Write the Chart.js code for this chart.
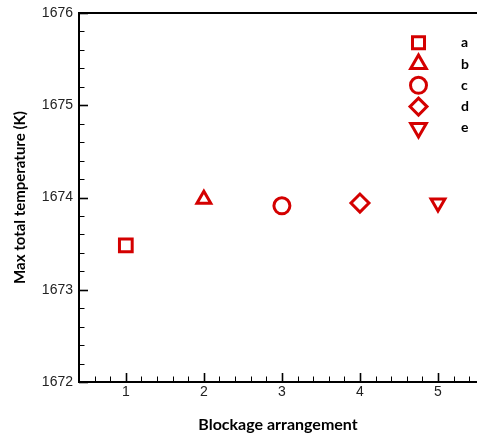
<!DOCTYPE html>
<html>
<head>
<meta charset="utf-8">
<script src="https://cdn.jsdelivr.net/npm/chart.js@4"></script>
<style>
  html, body { margin: 0; padding: 0; background: #fff; }
  #wrap { width: 478px; height: 434px; }
</style>
</head>
<body>
<div id="wrap"><canvas id="c" width="478" height="434"></canvas></div>
<script>
// Blockage arrangement cases and their maximum total temperature (K)
const caseLabels = ['a', 'b', 'c', 'd', 'e'];
const arrangement = [1, 2, 3, 4, 5];
const maxTemperature = [1673.48, 1673.98, 1673.91, 1673.94, 1673.94];
const markerStyles = ['rect', 'triangle', 'circle', 'rectRot', 'triangle'];
const markerRotations = [0, 0, 0, 0, 180];
const xTickValues = [1, 2, 3, 4, 5];
const yTickValues = [1672, 1673, 1674, 1675, 1676];

const RED = '#d40000';
const BORDER_W = 3;
const PLOT_RADII = [9, 8, 8, 9, 8];
const LEGEND_RADII = [8.5, 9, 8, 8.5, 9];
const TICK_FONT = { family: '"Liberation Sans", Arial, sans-serif', size: 14 };
const TITLE_FAMILY = 'Lato, "Open Sans", sans-serif';

const datasets = caseLabels.map((lbl, i) => ({
  label: lbl,
  data: [{ x: arrangement[i], y: maxTemperature[i] }],
  pointStyle: markerStyles[i],
  rotation: markerRotations[i],
  pointRadius: PLOT_RADII[i],
  pointHoverRadius: PLOT_RADII[i],
  pointBorderWidth: BORDER_W,
  borderColor: RED,
  pointBorderColor: RED,
  pointBackgroundColor: '#ffffff',
  showLine: false
}));

// Frame (left, bottom, top) plus inward major/minor tick marks
const framePlugin = {
  id: 'frame',
  afterDatasetsDraw(chart) {
    const { ctx, chartArea: a, scales: { x, y } } = chart;
    ctx.save();
    ctx.strokeStyle = '#000';
    ctx.lineCap = 'butt';
    for (let k = 0; k <= 20; k++) {
      const v = 1672 + k * 0.2;
      const py = Math.round(y.getPixelForValue(v)) + 0.5;
      const major = k % 5 === 0;
      ctx.lineWidth = major ? 1.6 : 1;
      ctx.beginPath();
      ctx.moveTo(a.left, py);
      ctx.lineTo(a.left + (major ? 9 : 5.5), py);
      ctx.stroke();
    }
    for (let k = 3; k <= 27; k++) {
      const v = k * 0.2;
      const px = Math.round(x.getPixelForValue(v)) + 0.5;
      const major = k % 5 === 0;
      ctx.lineWidth = major ? 1.6 : 1;
      ctx.beginPath();
      ctx.moveTo(px, a.bottom);
      ctx.lineTo(px, a.bottom - (major ? 9 : 5.5));
      ctx.stroke();
    }
    ctx.lineWidth = 2;
    ctx.beginPath();
    ctx.moveTo(a.right, a.top);
    ctx.lineTo(a.left, a.top);
    ctx.lineTo(a.left, a.bottom);
    ctx.lineTo(a.right, a.bottom);
    ctx.stroke();
    ctx.restore();
  }
};

// Legend drawn inside the plot, marker then label, one per row
const insideLegend = {
  id: 'insideLegend',
  afterDraw(chart) {
    const { ctx } = chart;
    const mx = 418.5, lx = 461, y0 = 42.7, dy = 21.3;
    ctx.save();
    chart.data.datasets.forEach((ds, i) => {
      const yy = y0 + i * dy;
      ctx.strokeStyle = RED;
      ctx.fillStyle = '#ffffff';
      ctx.lineWidth = BORDER_W;
      Chart.helpers.drawPoint(ctx, {
        pointStyle: ds.pointStyle,
        rotation: ds.rotation,
        radius: LEGEND_RADII[i],
        borderWidth: BORDER_W
      }, mx, yy);
      ctx.fillStyle = '#000';
      ctx.font = 'bold 14px ' + TITLE_FAMILY;
      ctx.textBaseline = 'middle';
      ctx.textAlign = 'left';
      ctx.fillText(ds.label, lx, yy);
    });
    ctx.restore();
  }
};

const fixPad = s => { s.paddingLeft = 0; s.paddingRight = 0; s.paddingTop = 0; s.paddingBottom = 0; };

new Chart(document.getElementById('c'), {
  type: 'scatter',
  data: { datasets },
  plugins: [framePlugin, insideLegend],
  options: {
    responsive: false,
    animation: false,
    layout: { autoPadding: false, padding: { top: 13, right: 1, left: 0, bottom: 0 } },
    plugins: { legend: { display: false }, tooltip: { enabled: false } },
    scales: {
      x: {
        type: 'linear',
        min: 0.4,
        max: 5.5,
        grid: { display: false, drawTicks: false, tickLength: 0 },
        border: { display: false },
        afterBuildTicks: s => { s.ticks = xTickValues.map(v => ({ value: v })); },
        afterFit: s => { s.height = 52; fixPad(s); },
        ticks: {
          padding: 2,
          color: '#222',
          font: TICK_FONT,
          callback: v => String(v)
        },
        title: {
          display: true,
          text: 'Blockage arrangement',
          color: '#000',
          padding: { top: 5, bottom: 0 },
          font: { family: TITLE_FAMILY, size: 16, weight: 'bold' }
        }
      },
      y: {
        type: 'linear',
        min: 1672,
        max: 1676,
        grid: { display: false, drawTicks: false, tickLength: 0 },
        border: { display: false },
        afterBuildTicks: s => { s.ticks = yTickValues.map(v => ({ value: v })); },
        afterFit: s => { s.width = 79; fixPad(s); },
        ticks: {
          padding: 6,
          color: '#222',
          font: TICK_FONT,
          callback: v => String(v)
        },
        title: {
          display: true,
          text: 'Max total temperature (K)',
          color: '#000',
          padding: { top: 11, bottom: 0 },
          font: { family: TITLE_FAMILY, size: 15, weight: 'bold' }
        }
      }
    }
  }
});
</script>
</body>
</html>
